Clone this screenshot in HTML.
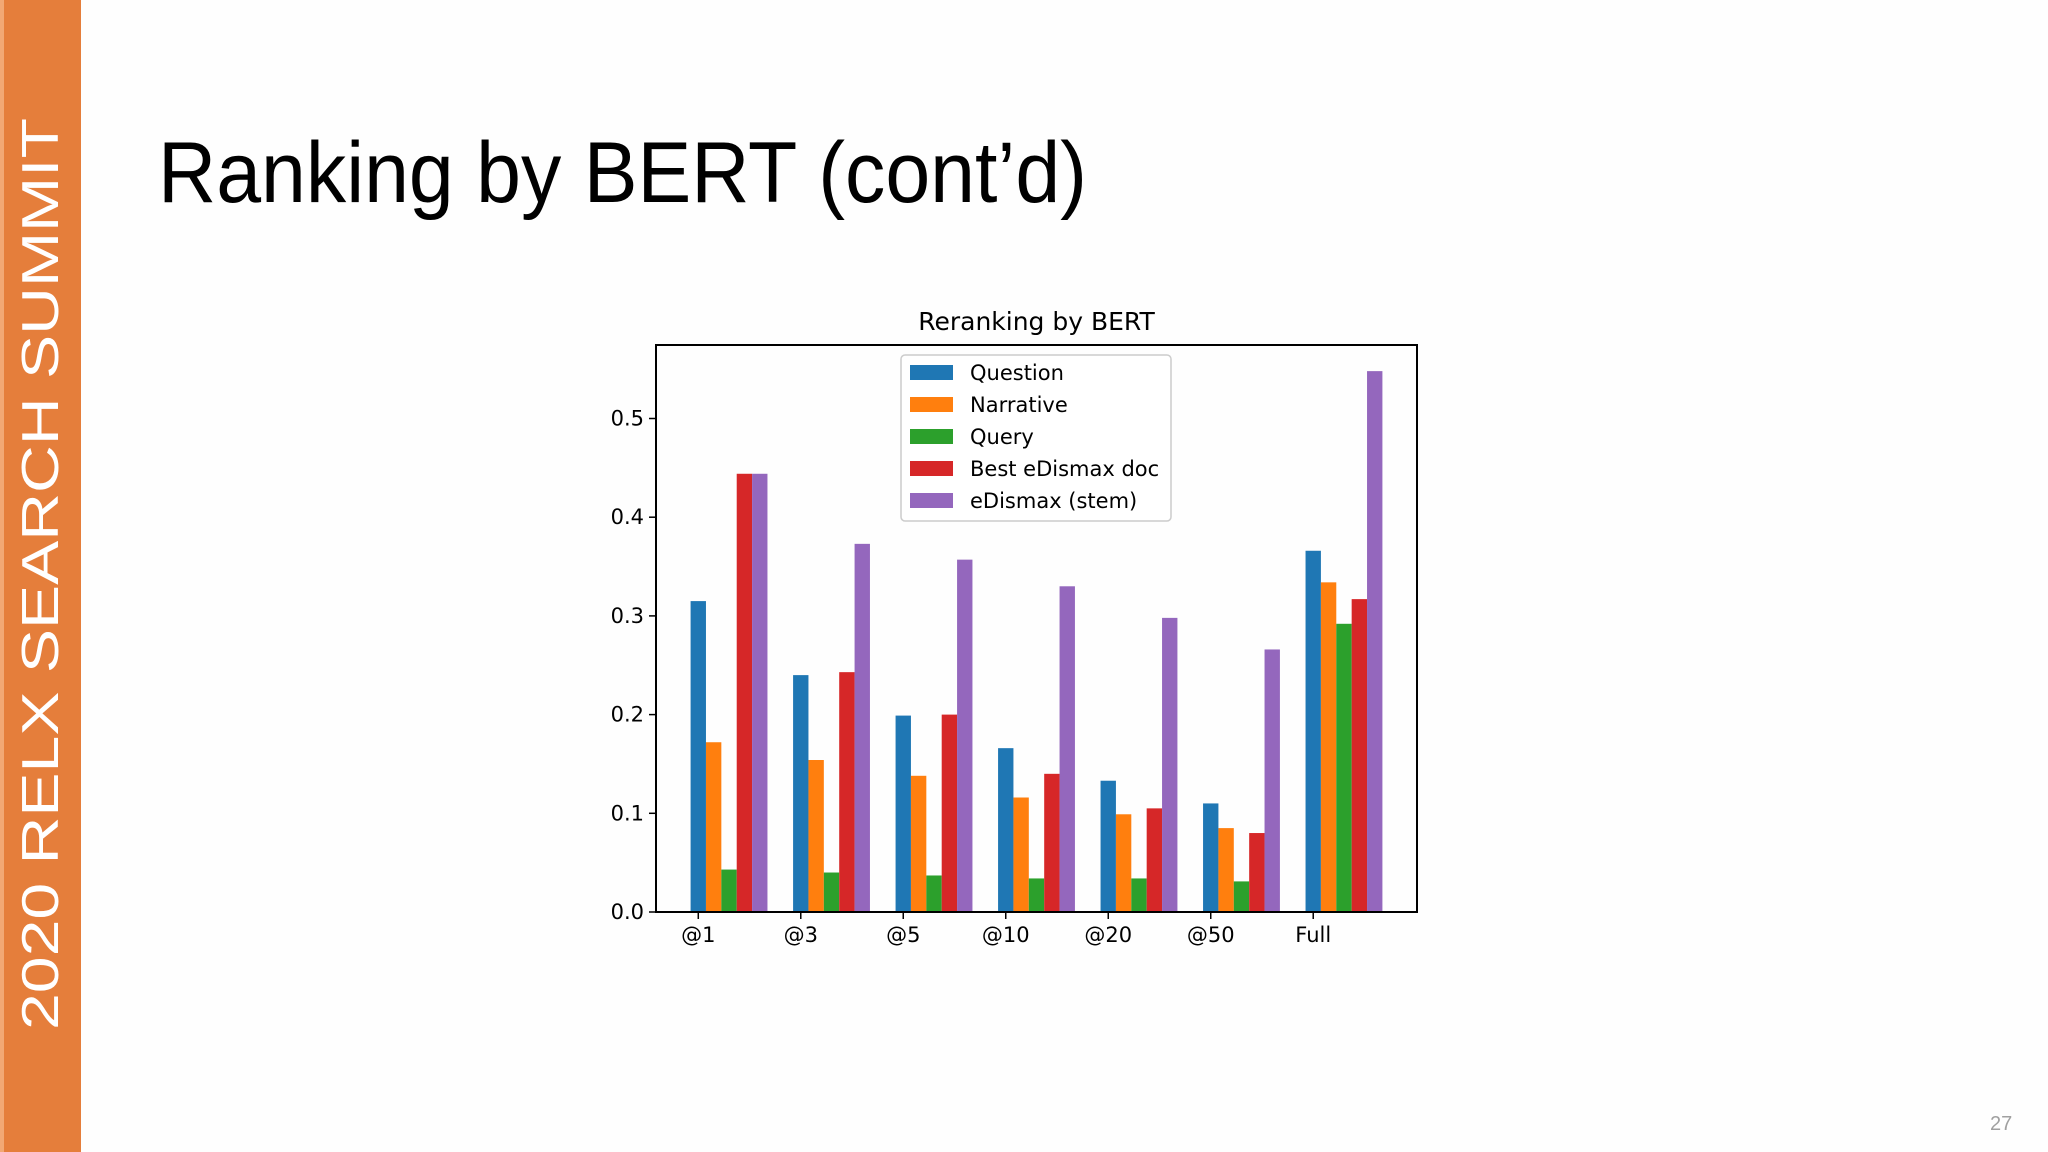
<!DOCTYPE html>
<html><head><meta charset="utf-8"><style>
html,body{margin:0;padding:0;background:#fefefe;}
svg{display:block;font-family:"DejaVu Sans","Liberation Sans",sans-serif;}
</style></head><body>
<svg id="page" width="2048" height="1152" viewBox="0 0 2048 1152">
<rect x="0" y="0" width="2048" height="1152" fill="#fefefe"/>
<rect x="0" y="0" width="81" height="1152" fill="#e57e3b"/>
<rect x="0" y="0" width="4" height="1152" fill="#f2a874"/>
<text transform="translate(58,1030) rotate(-90)" font-family="Liberation Sans, sans-serif" font-size="52" fill="#ffffff" textLength="912" lengthAdjust="spacingAndGlyphs">2020 RELX SEARCH SUMMIT</text>
<text x="158" y="202" font-family="Liberation Sans, sans-serif" font-size="86" fill="#000" textLength="929" lengthAdjust="spacingAndGlyphs">Ranking by BERT (cont’d)</text>
<text x="1990" y="1130" font-family="Liberation Sans, sans-serif" font-size="20" fill="#a0a0a0">27</text>
<g id="chart"></g>
</svg>
<script>
const categories = ["@1","@3","@5","@10","@20","@50","Full"];
const seriesNames = ["Question","Narrative","Query","Best eDismax doc","eDismax (stem)"];
const questionVals = [0.315,0.240,0.199,0.166,0.133,0.110,0.366];
const narrativeVals = [0.172,0.154,0.138,0.116,0.099,0.085,0.334];
const queryVals = [0.043,0.040,0.037,0.034,0.034,0.031,0.292];
const bestDocVals = [0.444,0.243,0.200,0.140,0.105,0.080,0.317];
const stemVals = [0.444,0.373,0.357,0.330,0.298,0.266,0.548];
const yTicks = [0.0,0.1,0.2,0.3,0.4,0.5];
const yTickLabels = ["0.0","0.1","0.2","0.3","0.4","0.5"];

const NS="http://www.w3.org/2000/svg";
const colors=["#1f77b4","#ff7f0e","#2ca02c","#d62728","#9467bd"];
const series=[questionVals,narrativeVals,queryVals,bestDocVals,stemVals];
const L=656,R=1417,T=345,B=912;
const xMin=-0.4125,xMax=7.0125;
const yMax=(B-T)/(B-418.5)*0.5;
const xs=v=>L+(v-xMin)/(xMax-xMin)*(R-L);
const ys=v=>B-v/yMax*(B-T);
const g=document.getElementById('chart');
function mk(tag,attrs,parent){const e=document.createElementNS(NS,tag);for(const k in attrs)e.setAttribute(k,attrs[k]);(parent||g).appendChild(e);return e;}
const bw=0.15;
series.forEach((vals,si)=>{
  vals.forEach((v,ci)=>{
    const x0=xs(ci+si*bw-bw/2),x1=xs(ci+si*bw+bw/2);
    const r=mk('rect',{x:x0,y:ys(v),width:x1-x0,height:ys(0)-ys(v),fill:colors[si]});
    
    
  });
});
const frame=mk('rect',{x:L,y:T,width:R-L,height:B-T,fill:'none',stroke:'#000','stroke-width':2});


yTicks.forEach((v,i)=>{
  const y=ys(v);
  const t=mk('line',{x1:L-7,x2:L,y1:y,y2:y,stroke:'#000','stroke-width':1.5});
  
  
  const lb=mk('text',{x:L-12,y:y+7,'text-anchor':'end','font-size':21,fill:'#000'});
  lb.textContent=yTickLabels[i];
  
  
});
categories.forEach((c,i)=>{
  const x=xs(i);
  const t=mk('line',{x1:x,x2:x,y1:B,y2:B+7,stroke:'#000','stroke-width':1.5});
  
  
  const lb=mk('text',{x:x,y:B+30,'text-anchor':'middle','font-size':21,fill:'#000'});
  lb.textContent=c;
  
  
});
const title=mk('text',{x:(L+R)/2,y:330,'text-anchor':'middle','font-size':25,fill:'#000'});
title.textContent='Reranking by BERT';


const lg=mk('g',{});


mk('rect',{x:901,y:355,width:270,height:166,rx:4,fill:'#fff','fill-opacity':0.85,stroke:'#ccc','stroke-width':1.5},lg);
seriesNames.forEach((n,i)=>{
  const y=365+i*32;
  const sw=mk('rect',{x:910,y:y,width:43,height:15,fill:colors[i]},lg);
  
  
  const t=mk('text',{x:970,y:y+15,'font-size':21,fill:'#000'},lg);
  t.textContent=n;
  
  
});
</script>
</body></html>
